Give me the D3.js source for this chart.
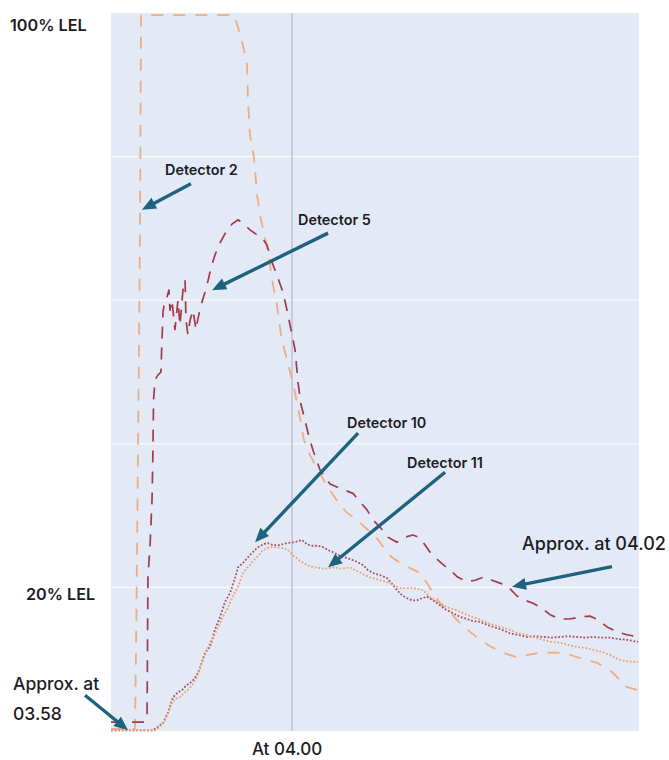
<!DOCTYPE html>
<html>
<head>
<meta charset="utf-8">
<script src="https://cdn.jsdelivr.net/npm/d3@7"></script>
<style>
  body { margin: 0; background: #ffffff; }
  svg { display: block; }
  text { font-family: Inter, "Open Sans", "Noto Sans", sans-serif; fill: #1c1c26; }
</style>
</head>
<body>
<svg id="chart" width="669" height="760"></svg>
<script>
// Gas readings, % LEL, against seconds elapsed since 03:58:00.
const detector2 = [
  [0,0.3],[14.6,0.3],[15.9,0.3],[16.6,11.3],[17.2,23.8],[17.9,39.1],[18.6,54.5],[19.2,69.8],[19.6,85.1],[19.9,99.7],
  [81.5,99.7],[84.2,98.0],[87.5,95.5],[90.2,92.8],[90.8,87.9],[92.1,83.0],[94.8,79.8],[96.8,74.7],[99.4,71.2],
  [102.1,68.7],[104.7,65.9],[107.4,62.1],[110.0,59.3],[112.7,55.2],[115.3,52.8],[118.0,50.6],[121.3,47.8],
  [124.6,44.4],[127.9,40.5],[131.9,38.4],[137.2,36.4],[142.5,34.3],[147.2,32.9],[151.8,31.5],[156.4,30.4],
  [161.1,29.7],[165.1,29.0],[170.4,28.0],[175.7,27.0],[179.6,25.9],[183.0,24.8],[186.9,24.1],[191.6,23.4],
  [198.2,22.7],[204.8,22.0],[209.5,20.6],[213.5,19.2],[216.8,18.2],[220.1,17.3],[226.1,16.2],[231.4,15.0],
  [238.0,13.8],[244.6,12.7],[251.3,11.8],[255.9,11.3],[262.5,10.7],[269.1,10.3],[276.4,10.6],[284.4,10.9],
  [291.0,10.9],[297.6,10.9],[304.3,10.6],[308.9,10.3],[315.5,9.9],[322.2,9.5],[327.5,8.8],[332.8,8.1],
  [337.4,7.1],[342.1,6.1],[349.4,5.7]
];

const detector5 = [
  [0,1.25],[12.6,1.25],[22.5,1.25],[23.9,2.2],[24.5,21.4],[25.9,25.9],[27.2,32.2],[27.8,39.1],[28.2,46.1],
  [29.2,48.9],[31.2,49.6],[33.1,50.0],[33.8,54.5],[34.5,58.4],[35.8,60.0],[37.1,60.4],[38.4,61.4],[39.1,58.6],
  [40.4,60.0],[42.4,55.9],[44.4,60.0],[45.7,56.5],[47.7,61.4],[49.1,62.8],[49.7,57.2],[51.0,55.2],[52.4,57.2],
  [54.4,58.6],[56.3,55.9],[57.7,57.5],[59.7,59.3],[62.3,61.1],[64.3,62.7],[66.3,64.5],[68.9,66.3],[72.3,68.0],
  [76.2,69.5],[80.2,70.6],[84.2,71.2],[88.2,70.6],[92.1,69.8],[96.1,69.2],[100.1,68.7],[103.4,67.7],[106.7,65.3],
  [110.7,63.1],[114.0,61.1],[116.7,58.6],[119.3,55.9],[122.0,53.1],[124.0,48.5],[126.0,45.4],[128.6,43.3],
  [131.3,40.9],[133.9,39.1],[138.5,36.4],[145.2,34.4],[151.8,33.8],[160.4,33.1],[165.1,31.9],[169.7,30.8],
  [173.7,29.4],[178.3,28.4],[183.6,27.0],[189.6,26.3],[194.9,27.0],[200.2,27.3],[204.8,26.9],[208.2,25.9],
  [211.5,24.9],[214.8,24.2],[219.4,23.3],[224.7,22.4],[230.0,21.4],[236.0,20.8],[241.3,21.0],[246.6,21.4],
  [252.6,21.0],[257.9,20.6],[263.2,20.1],[269.1,18.8],[274.4,18.2],[279.8,17.8],[285.7,17.1],[291.0,16.2],
  [297.6,15.6],[304.3,15.6],[310.9,15.9],[317.5,16.0],[322.8,15.5],[328.8,14.5],[335.4,13.8],[342.1,13.4],
  [349.4,13.1]
];

const detector10 = [
  [0,0.1],[27.8,0.1],[31.2,0.6],[34.5,1.1],[37.8,2.6],[41.1,4.7],[44.4,5.4],[47.1,5.7],[49.7,6.3],[52.4,6.7],
  [55.0,7.2],[57.7,8.1],[60.3,9.6],[62.3,10.9],[65.6,11.7],[68.9,14.1],[72.3,15.9],[75.6,18.0],[78.9,19.2],
  [82.2,21.3],[84.2,22.8],[87.5,23.4],[92.1,24.5],[96.8,25.5],[100.1,25.9],[103.4,26.2],[107.4,25.9],
  [112.0,25.9],[117.3,26.2],[122.0,26.3],[126.6,26.6],[129.9,26.0],[133.2,25.8],[137.2,25.8],[140.5,25.6],
  [143.9,25.2],[147.2,24.9],[151.8,24.4],[156.4,24.1],[160.4,23.8],[163.7,23.5],[167.1,23.1],[170.4,22.4],
  [173.7,22.0],[178.3,21.7],[183.0,21.3],[186.3,20.5],[189.6,19.6],[192.9,18.9],[196.2,18.5],[199.5,18.2],
  [202.8,18.2],[206.2,18.5],[209.5,18.7],[213.5,18.2],[218.1,17.5],[222.1,16.9],[226.7,16.4],[231.4,15.9],
  [236.0,15.6],[240.0,15.3],[244.6,15.2],[249.3,14.8],[253.2,14.5],[257.9,14.2],[264.5,13.6],[269.8,13.4],
  [275.8,13.1],[281.1,13.2],[286.4,13.1],[292.3,13.0],[297.6,13.1],[303.0,13.2],[308.9,13.1],[314.2,13.0],
  [319.5,13.1],[325.5,13.0],[330.8,13.0],[336.1,12.8],[342.1,12.7],[349.4,12.4]
];

const detector11 = [
  [0,0.1],[29.2,0.1],[32.5,0.6],[35.8,1.5],[37.8,2.5],[40.4,3.9],[43.1,4.5],[45.7,4.7],[48.4,5.3],[51.0,5.7],
  [53.7,6.4],[57.0,7.5],[59.0,8.8],[61.0,9.9],[63.6,11.3],[65.6,12.3],[68.3,13.2],[70.3,14.1],[73.6,15.7],
  [76.9,16.9],[80.2,18.5],[84.2,20.1],[87.5,22.0],[90.2,22.7],[92.1,23.1],[94.1,23.7],[96.8,24.2],[100.7,25.2],
  [105.4,25.6],[110.0,25.6],[113.4,25.5],[116.7,25.3],[120.6,24.5],[125.3,23.7],[129.9,23.1],[133.9,22.8],
  [138.5,22.7],[141.9,22.6],[145.2,22.7],[148.5,22.8],[151.8,22.6],[155.1,22.7],[158.4,22.8],[161.7,22.4],
  [165.1,22.1],[168.4,21.7],[171.7,21.4],[175.0,21.2],[178.3,21.0],[181.6,20.8],[185.0,20.6],[188.3,20.2],
  [191.6,19.9],[195.6,19.9],[200.2,19.9],[203.5,19.8],[206.8,19.6],[209.5,19.1],[211.5,18.7],[214.8,18.2],
  [218.1,17.8],[221.4,17.4],[224.7,17.1],[228.0,16.9],[231.4,16.6],[234.7,16.3],[238.0,16.0],[242.6,15.7],
  [247.9,15.2],[253.2,14.8],[257.9,14.5],[264.5,14.1],[269.8,13.6],[275.8,13.4],[281.1,13.0],[286.4,12.7],
  [292.3,12.4],[297.6,12.3],[303.0,12.0],[308.9,11.7],[314.2,11.6],[319.5,11.3],[325.5,11.0],[330.8,10.6],
  [334.1,10.2],[337.4,9.9],[342.1,9.7],[349.4,9.6]
];

const gridLevels = [20, 40, 60, 80];
const levelLabels = [
  { value: 100, text: "100% LEL" },
  { value: 20, text: "20% LEL" }
];
const markerTime = 120;            // 04:00:00
const markerLabel = "At 04.00";

// --- layout ---
const svg = d3.select("#chart");
const plot = { left: 111, right: 639, top: 13, bottom: 731 };

const x = d3.scaleLinear().domain([0, 350]).range([plot.left, plot.right]);
const y = d3.scaleLinear().domain([0, 100]).range([plot.bottom, plot.top]);

svg.append("rect")
  .attr("x", plot.left).attr("y", plot.top)
  .attr("width", plot.right - plot.left).attr("height", plot.bottom - plot.top)
  .attr("fill", "#e3eaf5");

svg.append("g").selectAll("line").data(gridLevels).join("line")
  .attr("x1", plot.left).attr("x2", plot.right)
  .attr("y1", d => y(d)).attr("y2", d => y(d))
  .attr("stroke", "#ffffff").attr("stroke-opacity", 0.8).attr("stroke-width", 1.2);

svg.append("line")
  .attr("x1", x(markerTime)).attr("x2", x(markerTime))
  .attr("y1", plot.top).attr("y2", plot.bottom)
  .attr("stroke", "#bcc0ca").attr("stroke-width", 1.4);

// --- series ---
const series = [
  { data: detector2,  color: "#ebae82", width: 1.8, dash: "12,10" },
  { data: detector5,  color: "#a33a4c", width: 1.7, dash: "12,9" },
  { data: detector10, color: "#a8505f", width: 1.8, dash: "1.8,1.8" },
  { data: detector11, color: "#e5a474", width: 1.8, dash: "1.8,1.8" }
];

const line = d3.line().x(d => x(d[0])).y(d => y(d[1]));

svg.append("g").selectAll("path").data(series).join("path")
  .attr("d", d => line(d.data))
  .attr("fill", "none")
  .attr("stroke", d => d.color)
  .attr("stroke-width", d => d.width)
  .attr("stroke-dasharray", d => d.dash)
  .attr("stroke-linejoin", "round");

// --- level labels ---
const levelLabelPos = { 100: { x: 10, dy: 18 }, 20: { x: 26, dy: 13 } };
svg.append("g").selectAll("text").data(levelLabels).join("text")
  .attr("x", d => levelLabelPos[d.value].x)
  .attr("y", d => y(d.value) + levelLabelPos[d.value].dy)
  .attr("font-size", 16.2).attr("font-weight", 600)
  .text(d => d.text);

svg.append("text")
  .attr("x", x(markerTime) - 5).attr("y", 755)
  .attr("text-anchor", "middle")
  .attr("font-size", 17).attr("font-weight", 500)
  .text(markerLabel);

// --- callouts ---
const arrowColor = "#1f6280";

// tip in data units, tail as pixel offset from the tip
const callouts = [
  { lines: ["Detector 2"],  tip: [20.5, 72.6], tail: [49, -26],   tx: 165, ty: 175, size: 14.4, weight: 600 },
  { lines: ["Detector 5"],  tip: [67.0, 61.4], tail: [116, -57],  tx: 298, ty: 225, size: 14.4, weight: 600 },
  { lines: ["Detector 10"], tip: [95.5, 26.3], tail: [103, -109], tx: 347, ty: 428, size: 14.4, weight: 600 },
  { lines: ["Detector 11"], tip: [143.9, 22.8], tail: [117, -95], tx: 407, ty: 468, size: 14.4, weight: 600 },
  { lines: ["Approx. at 04.02"], tip: [265.8, 20.1], tail: [100, -20], tx: 522, ty: 550, size: 18, weight: 500 },
  { lines: ["Approx. at", "03.58"], tip: [11.3, 0.1], tail: [-43, -35], tx: 13, ty: 690, size: 17.5, weight: 500 }
];

const cg = svg.append("g");
callouts.forEach(c => {
  const tx = x(c.tip[0]), ty = y(c.tip[1]);
  const sx = tx + c.tail[0], sy = ty + c.tail[1];
  const len = Math.hypot(tx - sx, ty - sy);
  const ex = tx - (tx - sx) / len * 8, ey = ty - (ty - sy) / len * 8;
  cg.append("line")
    .attr("x1", sx).attr("y1", sy).attr("x2", ex).attr("y2", ey)
    .attr("stroke", arrowColor).attr("stroke-width", 3.4);
  cg.append("path")
    .attr("d", "M0,0 L-14,-6 L-14,6 Z")
    .attr("fill", arrowColor)
    .attr("transform", `translate(${tx},${ty}) rotate(${Math.atan2(ty - sy, tx - sx) * 180 / Math.PI})`);
  const t = cg.append("text")
    .attr("x", c.tx).attr("y", c.ty)
    .attr("font-size", c.size).attr("font-weight", c.weight);
  c.lines.forEach((s, i) => {
    t.append("tspan").attr("x", c.tx).attr("dy", i === 0 ? 0 : 30).text(s);
  });
});
</script>
</body>
</html>
